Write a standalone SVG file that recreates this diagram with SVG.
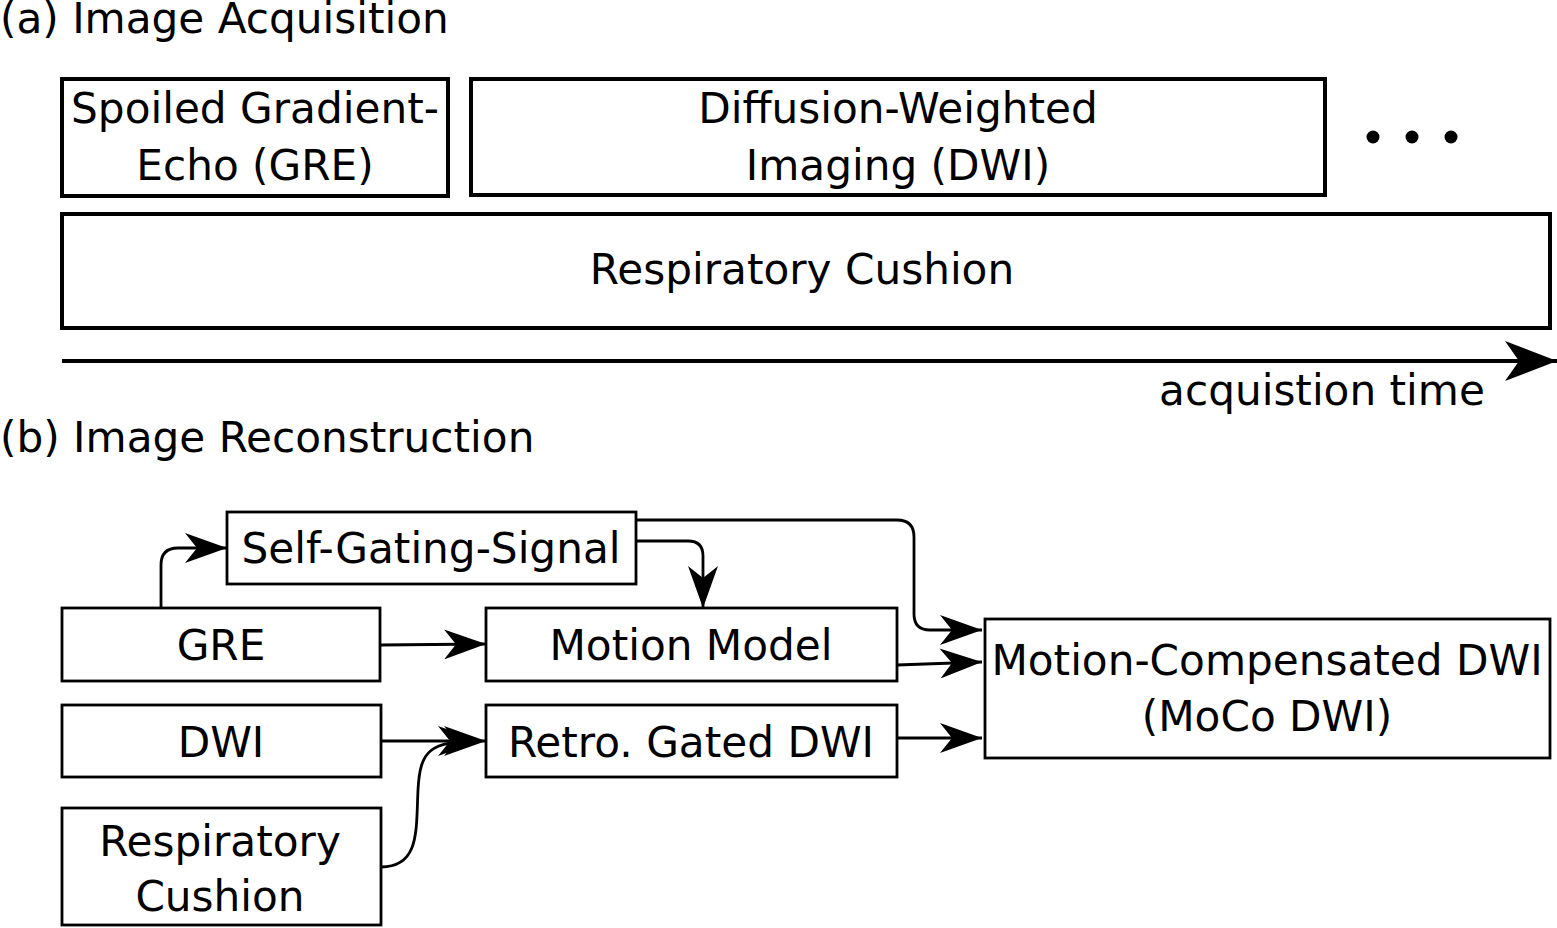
<svg xmlns="http://www.w3.org/2000/svg" width="1557" height="928" viewBox="0 0 1557 928">
<defs>
<style>
text{font-family:"DejaVu Sans","Verdana",sans-serif;font-size:42.2px;fill:#000}
.c{text-anchor:middle}
.bt{fill:#fff;stroke:#000;stroke-width:4}
.bb{fill:#fff;stroke:#000;stroke-width:2.8}
.e{fill:none;stroke:#000;stroke-width:2.8}
</style>
<marker id="ah" viewBox="0 0 42 30" refX="42" refY="15" markerWidth="42" markerHeight="30" markerUnits="userSpaceOnUse" orient="auto">
<path d="M0,0 L42,15 L0,30 L12,15 Z" fill="#000"/>
</marker>
<marker id="ahb" viewBox="0 0 52 40" refX="52" refY="20" markerWidth="52" markerHeight="40" markerUnits="userSpaceOnUse" orient="auto">
<path d="M0,0 L52,20 L0,40 L14,20 Z" fill="#000"/>
</marker>
</defs>
<text x="0" y="33">(a) Image Acquisition</text>
<g id="gre-acq"><rect class="bt" x="62" y="79" width="386" height="117"/><text class="c" x="255" y="123">Spoiled Gradient-</text><text class="c" x="255" y="180">Echo (GRE)</text></g>
<g id="dwi-acq"><rect class="bt" x="471" y="79" width="854" height="116"/><text class="c" x="898" y="123">Diffusion-Weighted</text><text class="c" x="898" y="180">Imaging (DWI)</text></g>
<g id="dots"><circle cx="1373" cy="137" r="6.5"/><circle cx="1412" cy="137" r="6.5"/><circle cx="1451" cy="137" r="6.5"/></g>
<g id="resp-acq"><rect class="bt" x="62" y="214" width="1488" height="114"/><text class="c" x="802" y="284">Respiratory Cushion</text></g>
<g id="time-axis"><line x1="62" y1="361" x2="1557" y2="361" stroke="#000" stroke-width="4" marker-end="url(#ahb)"/><text class="c" x="1322" y="405">acquistion time</text></g>
<text x="0" y="452">(b) Image Reconstruction</text>
<g id="sgs"><rect class="bb" x="227" y="512" width="409" height="72"/><text class="c" x="431" y="563">Self-Gating-Signal</text></g>
<g id="gre"><rect class="bb" x="62" y="608" width="318" height="73"/><text class="c" x="221" y="660">GRE</text></g>
<g id="mm"><rect class="bb" x="486" y="608" width="411" height="73"/><text class="c" x="691" y="660">Motion Model</text></g>
<g id="dwi"><rect class="bb" x="62" y="705" width="319" height="72"/><text class="c" x="221" y="757">DWI</text></g>
<g id="retro"><rect class="bb" x="486" y="705" width="411" height="72"/><text class="c" x="691" y="757">Retro. Gated DWI</text></g>
<g id="resp"><rect class="bb" x="62" y="808" width="319" height="117"/><text class="c" x="220" y="856">Respiratory</text><text class="c" x="220" y="911">Cushion</text></g>
<g id="moco"><rect class="bb" x="985" y="619" width="565" height="139"/><text class="c" x="1267" y="675">Motion-Compensated DWI</text><text class="c" x="1267" y="731">(MoCo DWI)</text></g>
<g id="connectors">
<path class="e" d="M161,608 L161,565 Q161,548 178,548 L227,548" marker-end="url(#ah)"/>
<path class="e" d="M636,541 L688,541 Q703,541 703,556 L703,608" marker-end="url(#ah)"/>
<path class="e" d="M636,520 L897,520 Q914,520 914,537 L914,614 Q914,630 930,630 L982,630" marker-end="url(#ah)"/>
<path class="e" d="M897,665 L982,662" marker-end="url(#ah)"/>
<path class="e" d="M380,645 L486,644" marker-end="url(#ah)"/>
<path class="e" d="M381,741 L486,741" marker-end="url(#ah)"/>
<path class="e" d="M381,867 C420,867 416,830 418,790 C420,750 430,741 480,741" marker-end="url(#ah)"/>
<path class="e" d="M897,738 L982,738" marker-end="url(#ah)"/>
</g>
</svg>
